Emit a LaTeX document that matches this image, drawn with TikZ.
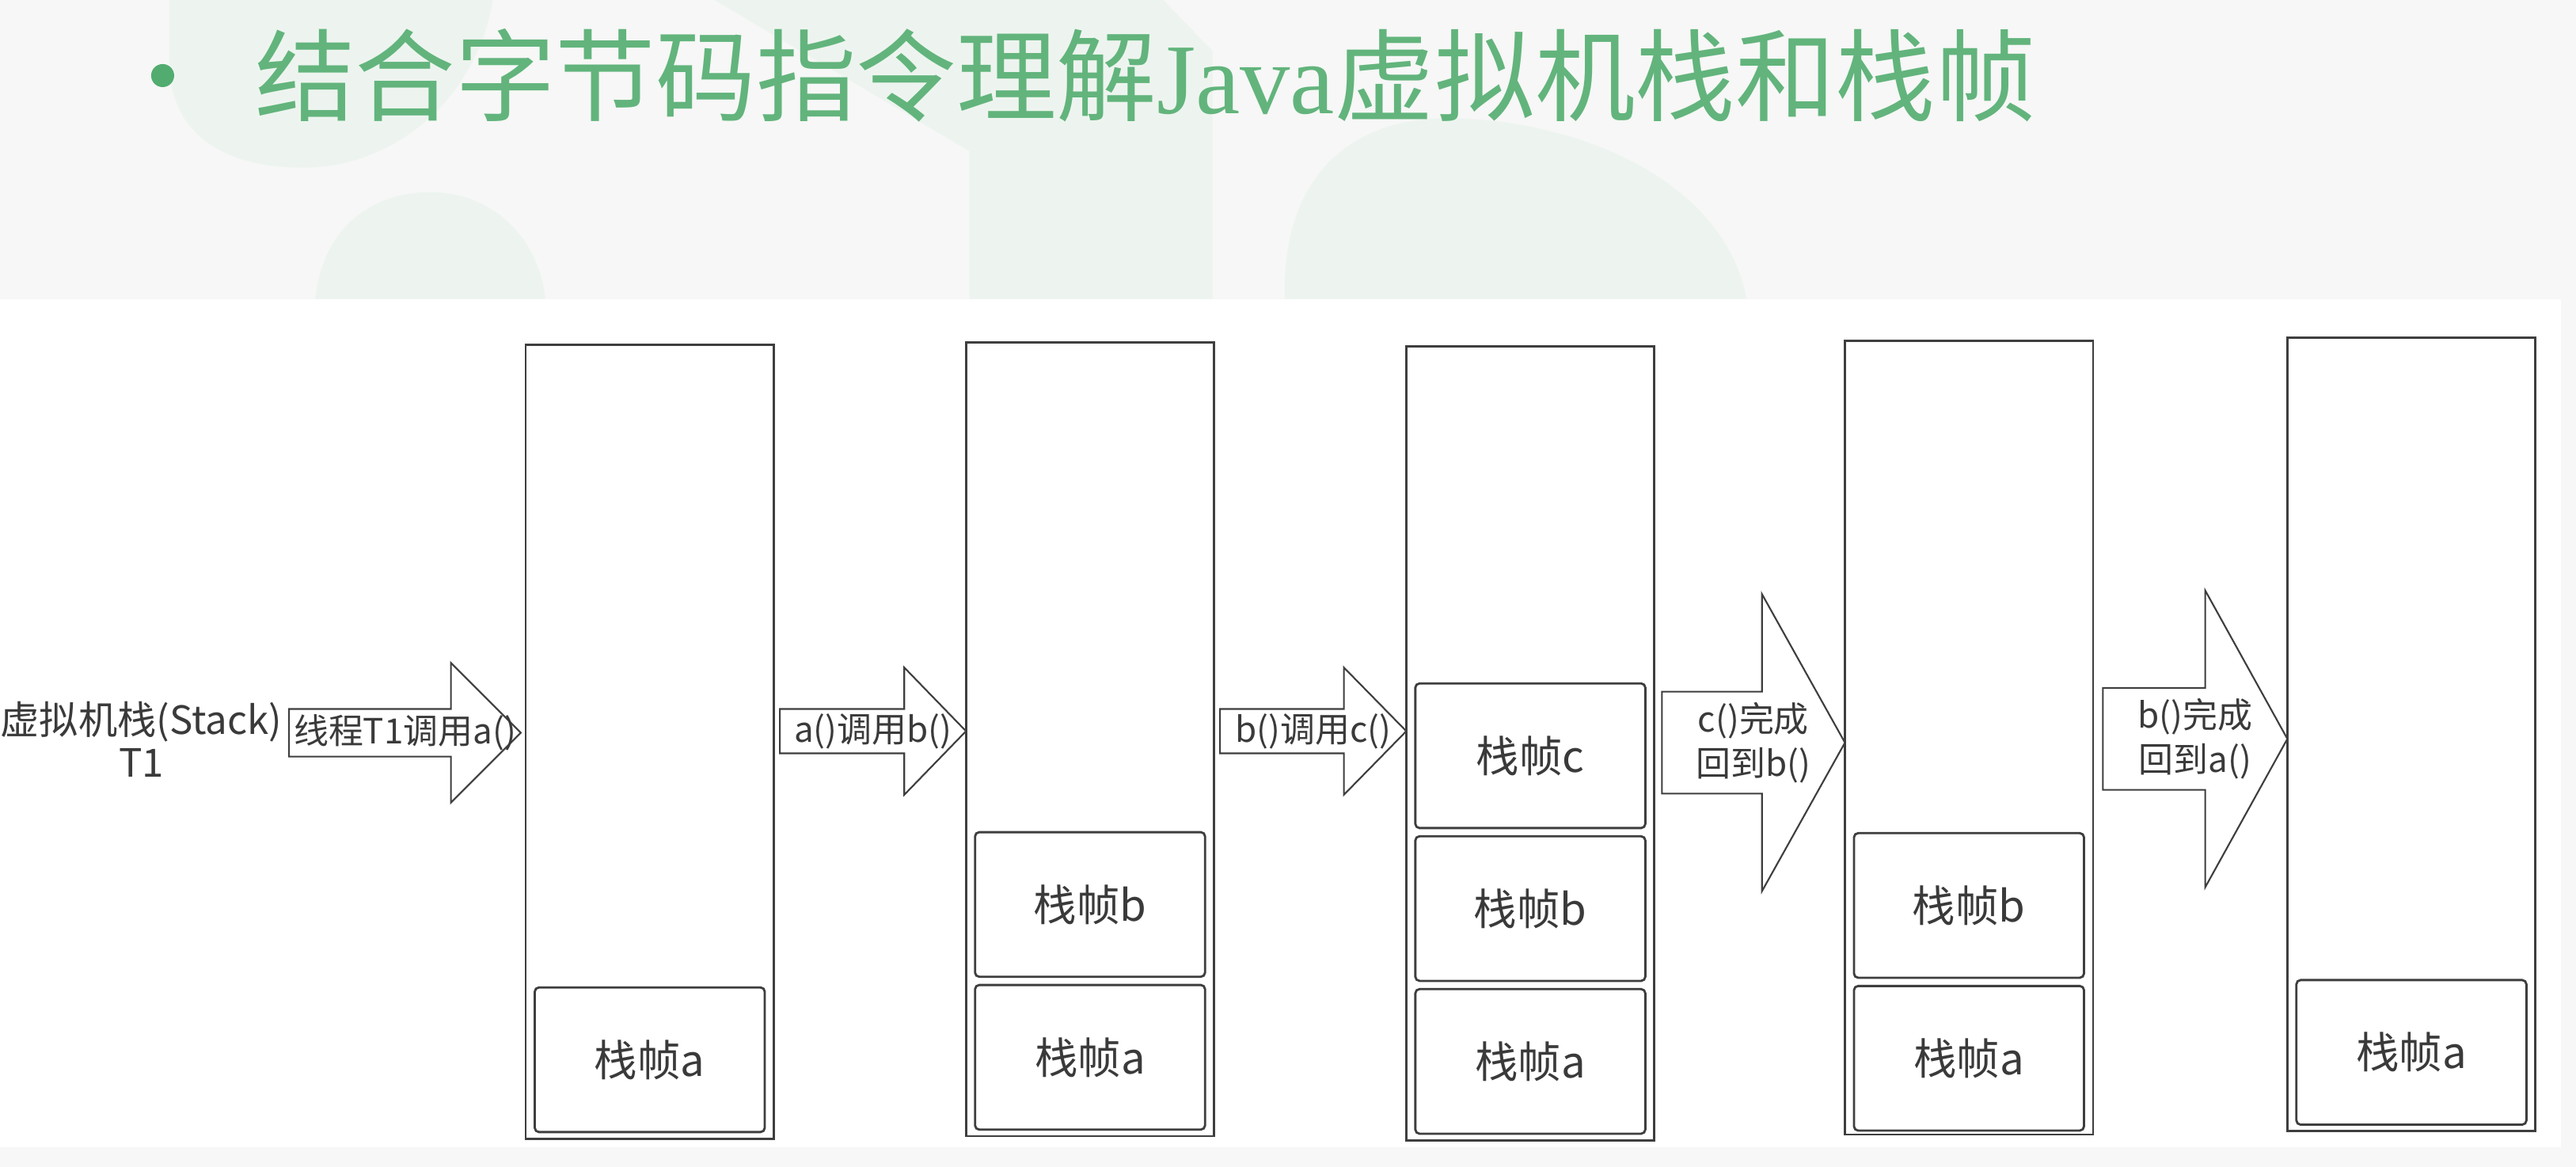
\documentclass[tikz,border=0pt]{standalone}
\usepackage{fontspec}
\setmainfont{Noto Sans CJK SC}
\newfontfamily\javafont{Liberation Serif}
\usetikzlibrary{positioning,calc}
\definecolor{titlegreen}{RGB}{98,180,124}
\definecolor{dotgreen}{RGB}{82,172,112}
\definecolor{mint}{RGB}{237,244,239}
\definecolor{pagegray}{RGB}{246,247,246}
\definecolor{linegray}{RGB}{62,62,62}
\definecolor{textgray}{RGB}{58,58,58}
\newcommand\px{0.020753cm}
\newcommand\callarrow[5]{\draw[callshape] ($(#1)+(0,#3)$) -- ($(#2)+(-#5,#3)$) -- ($(#2)+(-#5,#4)$) -- (#2)
  -- ($(#2)+(-#5,-#4)$) -- ($(#2)+(-#5,-#3)$) -- ($(#1)+(0,-#3)$) -- cycle;}

\begin{document}
\begin{tikzpicture}[x=\px,y=-\px,
  stackbox/.style={draw=linegray,line width=0.8pt,minimum width=151*\px,minimum height=483*\px,inner sep=0pt,outer sep=0pt},
  framebox/.style={draw=linegray,line width=0.8pt,rounded corners=1.5pt,minimum width=140*\px,minimum height=88*\px,
    inner sep=0pt,outer sep=0pt,text=textgray,font=\fontsize{15.5pt}{18pt}\selectfont},
  calltext/.style={text=textgray,align=center,inner sep=0pt,font=\fontsize{12.5pt}{16pt}\selectfont},
  callshape/.style={draw=linegray,line width=0.6pt,fill=white}]
  \fill[pagegray] (0,0) rectangle (1568,710.25);
  \useasboundingbox (0,0) rectangle (1568,710.25);
  \fill[mint] (103,0) -- (103,40) .. controls (105,85) and (140,102) .. (185,102)
    .. controls (240,102) and (290,60) .. (300,0) -- cycle;
  \fill[mint] (435,0) -- (590,92) -- (590,182) -- (738,182) -- (738,31) -- (708,0) -- cycle;
  \fill[mint] (192,182) .. controls (196,140) and (225,117) .. (262,117) .. controls (300,117) and (328,145) .. (332,182) -- cycle;
  \fill[mint] (782,182) .. controls (780,100) and (830,72) .. (880,72) .. controls (960,72) and (1050,110) .. (1063,182) -- cycle;
  \fill[white] (0,182) rectangle (1559,698);

  \fill[dotgreen] (99,46) circle (7);
  \node[anchor=west,inner sep=0pt,text=titlegreen,font=\fontsize{36pt}{40pt}\selectfont] (title) at (155,46)
    {结合字节码指令理解{\javafont Java}虚拟机栈和栈帧};

  \node[calltext,font=\fontsize{14pt}{15.3pt}\selectfont] (vmstack) at (86,450) {虚拟机栈(Stack)\\T1};

  \node[stackbox] (st1) at (395.5,451.5) {};
  \node[stackbox] (st2) at (663.5,450) {};
  \node[stackbox] (st3) at (931.5,452.5) {};
  \node[stackbox] (st4) at (1198.5,449) {};
  \node[stackbox] (st5) at (1467.8,447) {};

  \node[framebox,above=0.083cm of st1.south] (fa1) {栈帧a};
  \node[framebox,above=0.083cm of st2.south] (fa2) {栈帧a};
  \node[framebox,above=0.104cm of fa2] (fb2) {栈帧b};
  \node[framebox,above=0.083cm of st3.south] (fa3) {栈帧a};
  \node[framebox,above=0.104cm of fa3] (fb3) {栈帧b};
  \node[framebox,above=0.104cm of fb3] (fc3) {栈帧c};
  \node[framebox,above=0.05cm of st4.south] (fa4) {栈帧a};
  \node[framebox,above=0.104cm of fa4] (fb4) {栈帧b};
  \node[framebox,above=0.083cm of st5.south] (fa5) {栈帧a};

  \path (vmstack.east) ++(4,-4) coordinate (c1s);
  \path (st1.west |- c1s) ++(-3,0) coordinate (c1e);
  \path (st1.east) ++(3.7,-6.5) coordinate (c2s);
  \coordinate (c2e) at (st2.west |- c2s);
  \path (st2.east) ++(3.6,-5) coordinate (c3s);
  \coordinate (c3e) at (st3.west |- c3s);
  \path (st3.east) ++(4.6,-0.5) coordinate (c4s);
  \coordinate (c4e) at (st4.west |- c4s);
  \path (st4.east) ++(6,0.7) coordinate (c5s);
  \coordinate (c5e) at (st5.west |- c5s);

  \callarrow{c1s}{c1e}{14.5}{42.5}{42.5}
  \callarrow{c2s}{c2e}{13.5}{38.75}{37.6}
  \callarrow{c3s}{c3e}{13.5}{38.75}{38}
  \callarrow{c4s}{c4e}{31}{90.4}{50.5}
  \callarrow{c5s}{c5e}{31}{90.3}{50}

  \path (c1s) -- node[calltext] (lab1) {线程T1调用a()} (c1e);
  \path (c2s) -- node[calltext] (lab2) {a()调用b()} (c2e);
  \path (c3s) -- node[calltext] (lab3) {b()调用c()} (c3e);
  \path (c4s) -- node[calltext] (lab4) {c()完成\\回到b()} (c4e);
  \path (c5s) -- node[calltext] (lab5) {b()完成\\回到a()} (c5e);
\end{tikzpicture}
\end{document}
